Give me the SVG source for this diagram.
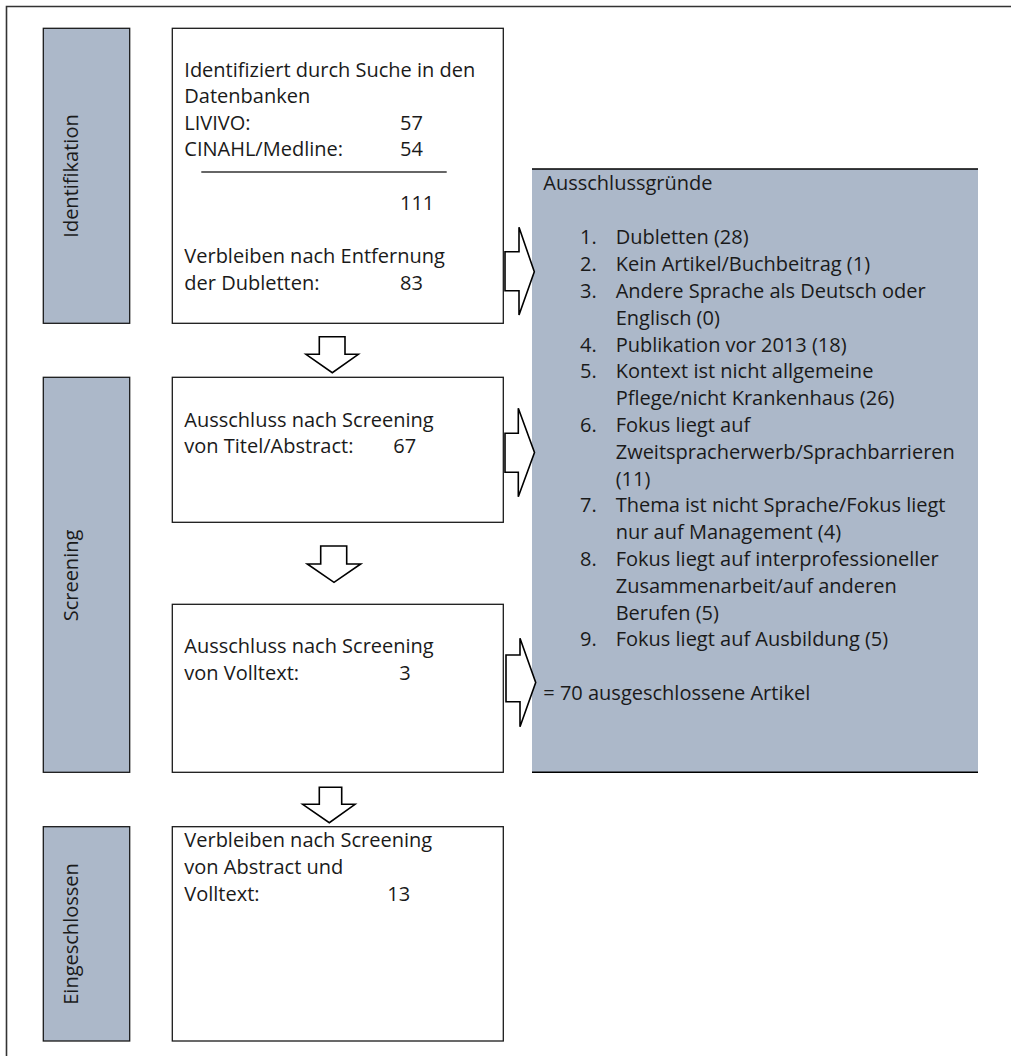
<svg xmlns="http://www.w3.org/2000/svg" width="1011" height="1056" viewBox="0 0 1011 1056">
<style>
text{font-family:"Open Sans","Noto Sans","Liberation Sans",sans-serif;font-size:20px;fill:#1a1a1a}
.stage{fill:#acb8c9;stroke:#1a1a1a;stroke-width:1.3}
.box{fill:#fff;stroke:#1a1a1a;stroke-width:1.3}
.arr{fill:#fff;stroke:#000;stroke-width:1.6;stroke-linejoin:miter}
.mid{text-anchor:middle}
</style>
<rect width="1011" height="1056" fill="#fff"/>
<g id="frame">
<path d="M6.5 1056 V6.5 H1011" fill="none" stroke="#333" stroke-width="1.6"/>
</g>
<g id="stage-identifikation">
<rect class="stage" x="43.3" y="28.3" width="86.4" height="295"/>
<text class="mid" transform="translate(78,176) rotate(-90)">Identifikation</text>
</g>
<g id="stage-screening">
<rect class="stage" x="43.3" y="377.3" width="86.4" height="395"/>
<text class="mid" transform="translate(77.5,575.5) rotate(-90)">Screening</text>
</g>
<g id="stage-eingeschlossen">
<rect class="stage" x="43.3" y="826.7" width="86.4" height="214.3"/>
<text class="mid" transform="translate(77.5,934) rotate(-90)">Eingeschlossen</text>
</g>
<g id="exclusion">
<rect x="532" y="169" width="446" height="603.3" fill="#acb8c9"/>
<line x1="532" y1="169" x2="978" y2="169" stroke="#000" stroke-width="1.3"/>
<line x1="532" y1="772.3" x2="978" y2="772.3" stroke="#000" stroke-width="1.6"/>
<text x="543.3" y="190">Ausschlussgründe</text>
<text x="580" y="244.3">1.</text><text x="615.7" y="244.3">Dubletten (28)</text>
<text x="580" y="271.1">2.</text><text x="615.7" y="271.1">Kein Artikel/Buchbeitrag (1)</text>
<text x="580" y="297.9">3.</text><text x="615.7" y="297.9">Andere Sprache als Deutsch oder</text>
<text x="615.7" y="324.7">Englisch (0)</text>
<text x="580" y="351.5">4.</text><text x="615.7" y="351.5">Publikation vor 2013 (18)</text>
<text x="580" y="378.3">5.</text><text x="615.7" y="378.3">Kontext ist nicht allgemeine</text>
<text x="615.7" y="405.1">Pflege/nicht Krankenhaus (26)</text>
<text x="580" y="431.9">6.</text><text x="615.7" y="431.9">Fokus liegt auf</text>
<text x="615.7" y="458.7">Zweitspracherwerb/Sprachbarrieren</text>
<text x="615.7" y="485.5">(11)</text>
<text x="580" y="512.3">7.</text><text x="615.7" y="512.3">Thema ist nicht Sprache/Fokus liegt</text>
<text x="615.7" y="539.1">nur auf Management (4)</text>
<text x="580" y="565.9">8.</text><text x="615.7" y="565.9">Fokus liegt auf interprofessioneller</text>
<text x="615.7" y="592.7">Zusammenarbeit/auf anderen</text>
<text x="615.7" y="619.5">Berufen (5)</text>
<text x="580" y="646.3">9.</text><text x="615.7" y="646.3">Fokus liegt auf Ausbildung (5)</text>
<text x="543.3" y="700">= 70 ausgeschlossene Artikel</text>
</g>
<g id="box-identified">
<rect class="box" x="172.3" y="28.3" width="331" height="295"/>
<text x="184.3" y="77">Identifiziert durch Suche in den</text>
<text x="184.3" y="103.3">Datenbanken</text>
<text x="184.3" y="129.6">LIVIVO:</text><text x="400" y="129.6">57</text>
<text x="184.3" y="156">CINAHL/Medline:</text><text x="400" y="156">54</text>
<line x1="201.3" y1="172" x2="446.7" y2="172" stroke="#333" stroke-width="1.3"/>
<text x="400" y="210">111</text>
<text x="184.3" y="263.3">Verbleiben nach Entfernung</text>
<text x="184.3" y="290">der Dubletten:</text><text x="400" y="290">83</text>
</g>
<g id="box-screen-title">
<rect class="box" x="172.3" y="377.3" width="331" height="145"/>
<text x="184.3" y="426.7">Ausschluss nach Screening</text>
<text x="184.3" y="452.7">von Titel/Abstract:</text><text x="393.3" y="452.7">67</text>
</g>
<g id="box-screen-fulltext">
<rect class="box" x="172.3" y="604.3" width="331" height="168"/>
<text x="184.3" y="652.7">Ausschluss nach Screening</text>
<text x="184.3" y="679.7">von Volltext:</text><text x="399.3" y="679.7">3</text>
</g>
<g id="box-included">
<rect class="box" x="172.3" y="826.7" width="331" height="214.3"/>
<text x="184.3" y="847.3">Verbleiben nach Screening</text>
<text x="184.3" y="874">von Abstract und</text>
<text x="184.3" y="900.7">Volltext:</text><text x="387.3" y="900.7">13</text>
</g>
<g id="connectors">
<polygon class="arr" points="319.3,336.7 345,336.7 345,354.3 358.3,354.3 332.3,372.7 306,354.3 319.3,354.3"/>
<polygon class="arr" points="320.7,546 346.7,546 346.7,564 360.7,564 334,582.3 307.3,564 320.7,564"/>
<polygon class="arr" points="319.3,787.3 341.7,787.3 341.7,804.3 355,804.3 329.3,822.7 302.7,804.3 319.3,804.3"/>
<polygon class="arr" points="505,251.7 519,251.7 519,227.3 534.3,271.7 519,315 519,290.7 505,290.7"/>
<polygon class="arr" points="505,433.3 518.3,433.3 518.3,408.3 534.5,452.5 518.3,496.7 518.3,472.3 505,472.3"/>
<polygon class="arr" points="506,655 520,655 520,638.3 535.7,682.5 520,726.7 520,701.7 506,701.7"/>
</g>
</svg>
